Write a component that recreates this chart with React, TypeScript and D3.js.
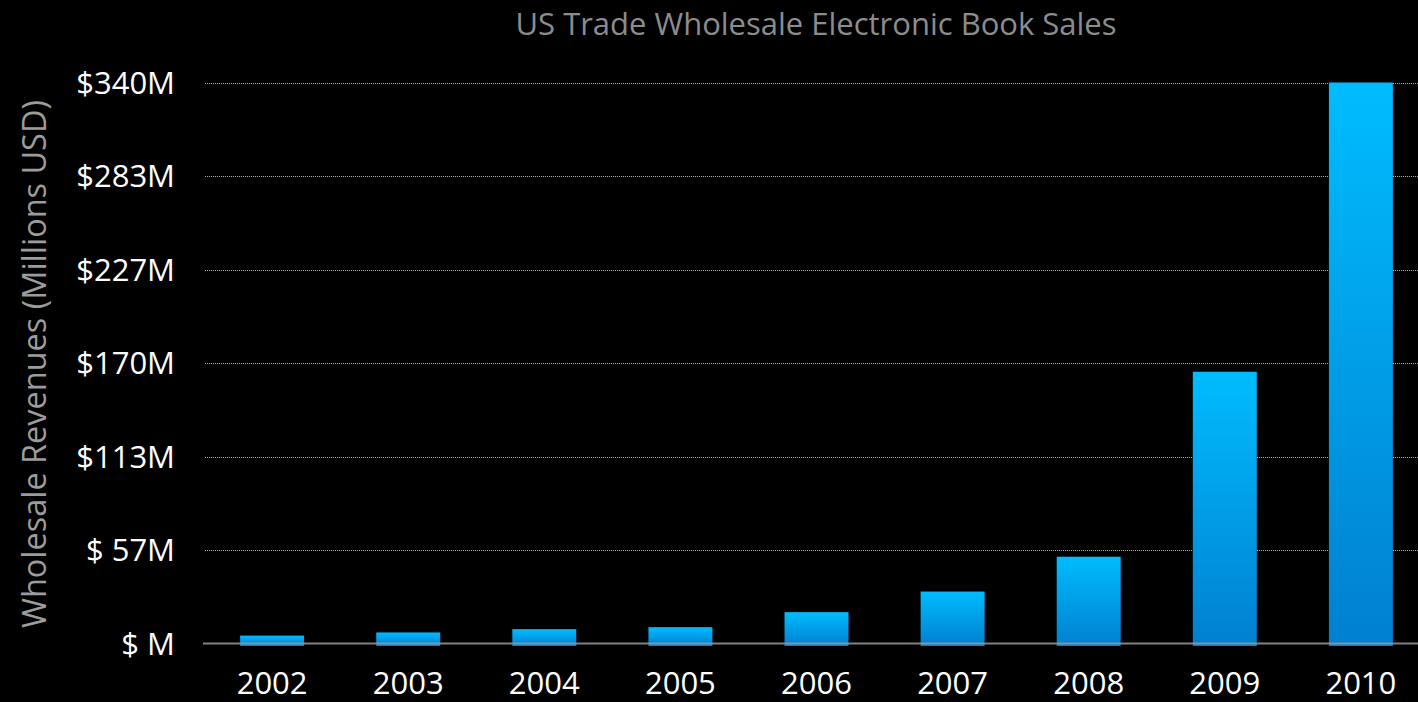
import React from "react";
import * as d3 from "d3";

const years = ["2002", "2003", "2004", "2005", "2006", "2007", "2008", "2009", "2010"];
const revenues = [4.8, 6.7, 8.7, 9.9, 19, 31.5, 52.6, 164.7, 340];
const tickValues = [0, 340 / 6, (340 * 2) / 6, 170, (340 * 4) / 6, (340 * 5) / 6, 340];
const tickLabels = ["$ M", "$ 57M", "$113M", "$170M", "$227M", "$283M", "$340M"];
const title = "US Trade Wholesale Electronic Book Sales";
const yTitle = "Wholesale Revenues (Millions USD)";

const W = 1418;
const H = 702;
const FONT = "'Open Sans', 'Noto Sans', sans-serif";

export default function App() {
  const x = d3.scaleBand<string>().domain(years).range([168, 1465]).padding(0.53);
  const y = d3.scaleLinear().domain([0, 340]).range([643.5, 82.5]);
  const gridX0 = 205;
  const baseY = y(0);

  return (
    <svg
      width={W}
      height={H}
      style={{ position: "absolute", left: 0, top: 0, background: "#000", display: "block" }}
    >
      <defs>
        <linearGradient id="barGrad" x1="0" y1="0" x2="0" y2="1">
          <stop offset="0%" stopColor="#00bcff" />
          <stop offset="100%" stopColor="#0080d0" />
        </linearGradient>
      </defs>
      <rect x={0} y={0} width={W} height={H} fill="#000" />
      <text
        x={816}
        y={35}
        textAnchor="middle"
        fill="#8c8c8c"
        fontFamily={FONT}
        fontSize={31}
        textLength={601}
        lengthAdjust="spacingAndGlyphs"
      >
        {title}
      </text>
      <text
        transform={`translate(46,364) rotate(-90)`}
        textAnchor="middle"
        fill="#9c9c9c"
        fontFamily={FONT}
        fontSize={32}
        textLength={528}
        lengthAdjust="spacingAndGlyphs"
      >
        {yTitle}
      </text>
      {tickValues.map((v, i) =>
        i === 0 ? null : (
          <line
            key={"g" + i}
            x1={gridX0}
            x2={W}
            y1={Math.round(y(v)) + 0.5}
            y2={Math.round(y(v)) + 0.5}
            stroke="#b0b0b0"
            strokeWidth={1}
            strokeDasharray="1,1"
          />
        )
      )}
      {tickValues.map((v, i) => (
        <text
          key={"t" + i}
          x={175}
          y={y(v) + 11}
          textAnchor="end"
          fill="#fff"
          fontFamily={FONT}
          fontSize={31}
          fontWeight={500}
        >
          {tickLabels[i]}
        </text>
      ))}
      {years.map((yr, i) => (
        <rect
          key={"b" + yr}
          x={x(yr)}
          y={y(revenues[i])}
          width={x.bandwidth()}
          height={baseY - y(revenues[i]) + 2.5}
          fill="url(#barGrad)"
        />
      ))}
      <line x1={203} x2={W} y1={baseY} y2={baseY} stroke="#999" strokeOpacity={0.85} strokeWidth={2} />
      {years.map((yr) => (
        <text
          key={"l" + yr}
          x={(x(yr) as number) + x.bandwidth() / 2}
          y={694}
          textAnchor="middle"
          fill="#fff"
          fontFamily={FONT}
          fontSize={31}
          fontWeight={500}
        >
          {yr}
        </text>
      ))}
    </svg>
  );
}
